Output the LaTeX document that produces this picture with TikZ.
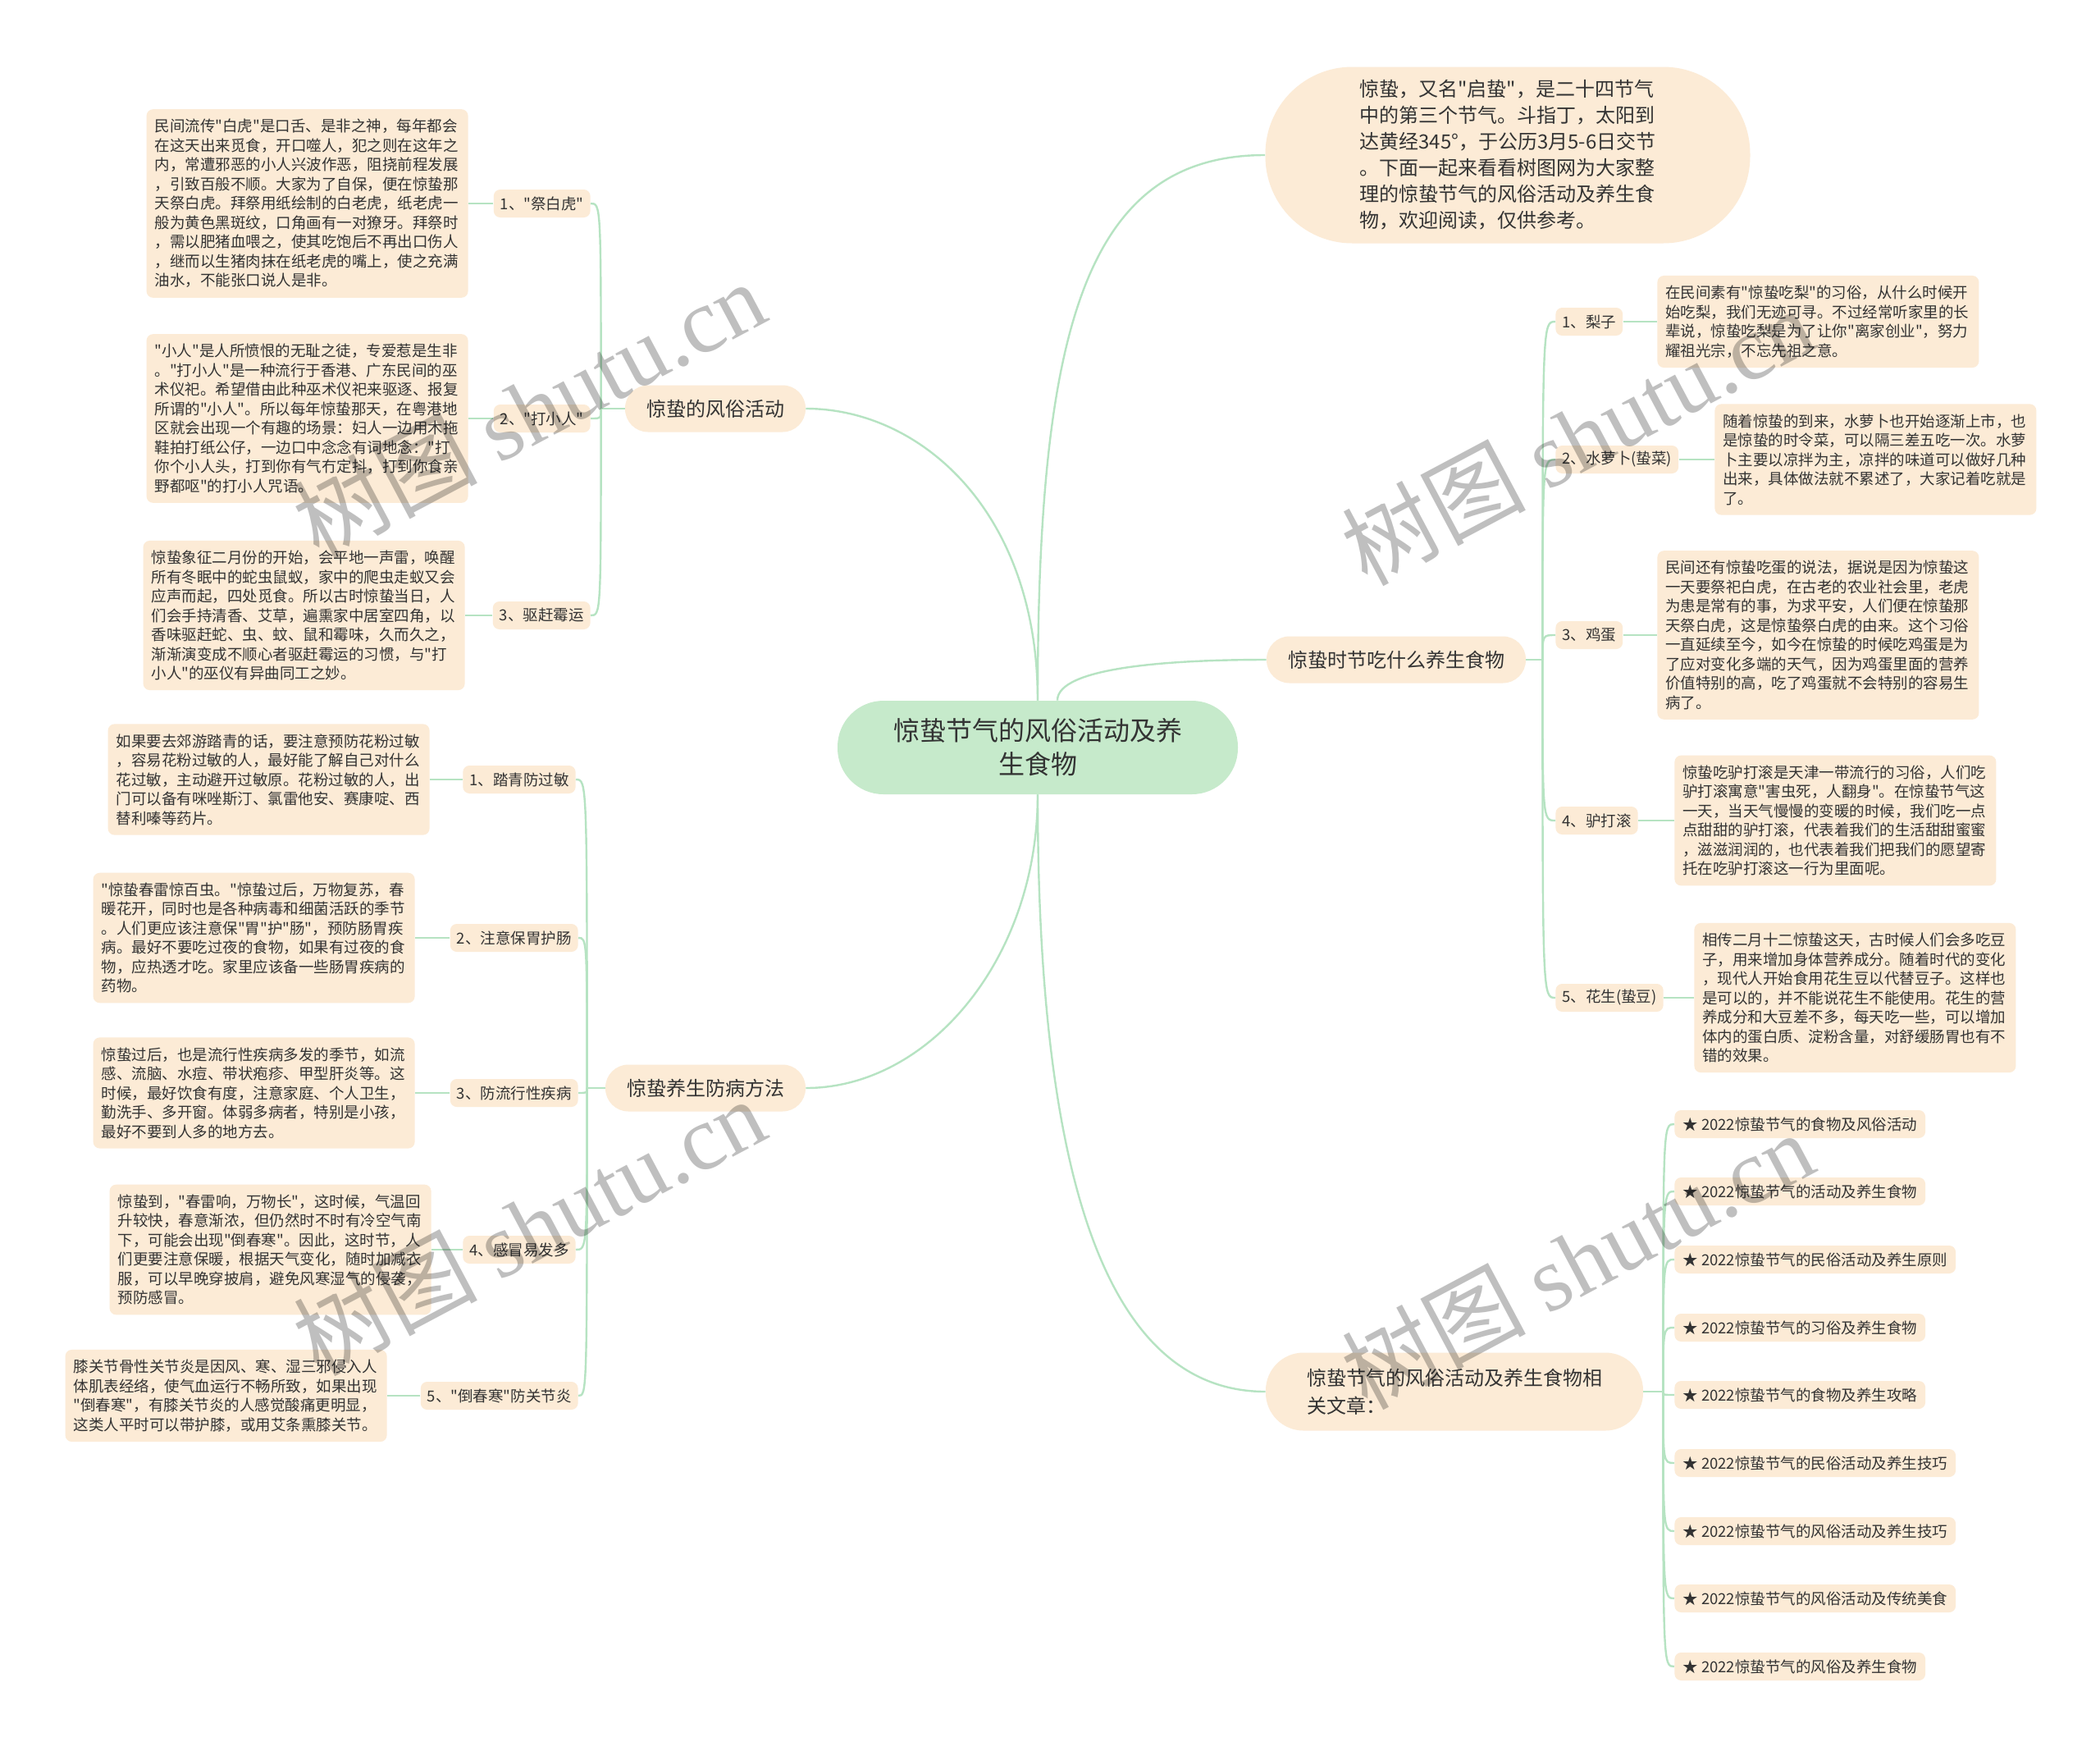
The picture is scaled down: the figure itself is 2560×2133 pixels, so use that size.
\documentclass[tikz,border=0pt]{standalone}
\usepackage{fontspec}
\setmainfont{Noto Sans CJK SC}[Ligatures=TeXOff]
\newfontfamily\wmfont{Liberation Serif}

\definecolor{cream}{HTML}{FCEBD6}
\definecolor{mint}{HTML}{C6EACB}
\definecolor{linkgreen}{HTML}{B6E3C2}
\definecolor{ink}{HTML}{333333}

\begin{document}
\begin{tikzpicture}[x=0.5pt, y=-0.5pt,
  link/.style={draw=linkgreen, line width=1.2pt},
  rootbox/.style={fill=mint, rounded corners=28pt, minimum height=57pt, inner xsep=34pt, align=center, text=ink, font=\fontsize{16}{20.5}\selectfont},
  topicbox/.style={fill=cream, rounded corners=14pt, minimum height=28.5pt, inner xsep=13pt, text=ink, font=\fontsize{12}{16}\selectfont},
  itembox/.style={fill=cream, rounded corners=4pt, minimum height=17pt, inner xsep=4pt, inner ysep=2pt, text=ink, font=\fontsize{9.25}{11.75}\selectfont},
  notebox/.style={fill=cream, rounded corners=4pt, text width=186pt, inner xsep=5pt, inner ysep=6pt, align=left, text=ink, font=\fontsize{9.25}{11.75}\selectfont},
  wmtext/.style={rotate=28, text=black, text opacity=0.25, font=\fontsize{56}{60}\selectfont}]
\useasboundingbox[fill=white] (0,0) rectangle (2560,2133);

\node[rootbox] (root) at (1265,911) {惊蛰节气的风俗活动及养\\生食物};
\node[topicbox] (b1) at (872,498) {惊蛰的风俗活动};
\node[topicbox] (b2) at (860,1326) {惊蛰养生防病方法};
\node[topicbox, minimum width=295.5pt, minimum height=107.5pt, rounded corners=53pt, align=left] (b3) at (1838,189) {惊蛰，又名"启蛰"，是二十四节气\\中的第三个节气。斗指丁，太阳到\\达黄经345°，于公历3月5-6日交节\\。下面一起来看看树图网为大家整\\理的惊蛰节气的风俗活动及养生食\\物，欢迎阅读，仅供参考。};
\node[topicbox] (b4) at (1702,804) {惊蛰时节吃什么养生食物};
\node[topicbox, minimum height=47.5pt, rounded corners=23pt, inner xsep=25pt, align=left, font=\fontsize{12}{17}\selectfont] (b5) at (1773,1696) {惊蛰节气的风俗活动及养生食物相\\关文章：};

\node[itembox, anchor=east] (s11) at (720,248) {1、"祭白虎"};
\node[itembox, anchor=east] (s12) at (720,510) {2、"打小人"};
\node[itembox, anchor=east] (s13) at (720,750) {3、驱赶霉运};
\node[notebox, anchor=east] (t11) at (571,248) {民间流传"白虎"是口舌、是非之神，每年都会\\在这天出来觅食，开口噬人，犯之则在这年之\\内，常遭邪恶的小人兴波作恶，阻挠前程发展\\，引致百般不顺。大家为了自保，便在惊蛰那\\天祭白虎。拜祭用纸绘制的白老虎，纸老虎一\\般为黄色黑斑纹，口角画有一对獠牙。拜祭时\\，需以肥猪血喂之，使其吃饱后不再出口伤人\\，继而以生猪肉抹在纸老虎的嘴上，使之充满\\油水，不能张口说人是非。};
\node[notebox, anchor=east] (t12) at (571,510) {"小人"是人所愤恨的无耻之徒，专爱惹是生非\\。"打小人"是一种流行于香港、广东民间的巫\\术仪祀。希望借由此种巫术仪祀来驱逐、报复\\所谓的"小人"。所以每年惊蛰那天，在粤港地\\区就会出现一个有趣的场景：妇人一边用木拖\\鞋拍打纸公仔，一边口中念念有词地念："打\\你个小人头，打到你有气冇定抖，打到你食亲\\野都呕"的打小人咒语。};
\node[notebox, anchor=east] (t13) at (567,750) {惊蛰象征二月份的开始，会平地一声雷，唤醒\\所有冬眠中的蛇虫鼠蚁，家中的爬虫走蚁又会\\应声而起，四处觅食。所以古时惊蛰当日，人\\们会手持清香、艾草，遍熏家中居室四角，以\\香味驱赶蛇、虫、蚊、鼠和霉味，久而久之，\\渐渐演变成不顺心者驱赶霉运的习惯，与"打\\小人"的巫仪有异曲同工之妙。};

\node[itembox, anchor=east] (s21) at (702,950) {1、踏青防过敏};
\node[itembox, anchor=east] (s22) at (705,1143) {2、注意保胃护肠};
\node[itembox, anchor=east] (s23) at (705,1332) {3、防流行性疾病};
\node[itembox, anchor=east] (s24) at (702,1523) {4、感冒易发多};
\node[itembox, anchor=east] (s25) at (705,1701) {5、"倒春寒"防关节炎};
\node[notebox, anchor=east] (t21) at (524,950) {如果要去郊游踏青的话，要注意预防花粉过敏\\，容易花粉过敏的人，最好能了解自己对什么\\花过敏，主动避开过敏原。花粉过敏的人，出\\门可以备有咪唑斯汀、氯雷他安、赛康啶、西\\替利嗪等药片。};
\node[notebox, anchor=east] (t22) at (506,1143) {"惊蛰春雷惊百虫。"惊蛰过后，万物复苏，春\\暖花开，同时也是各种病毒和细菌活跃的季节\\。人们更应该注意保"胃"护"肠"，预防肠胃疾\\病。最好不要吃过夜的食物，如果有过夜的食\\物，应热透才吃。家里应该备一些肠胃疾病的\\药物。};
\node[notebox, anchor=east] (t23) at (506,1332) {惊蛰过后，也是流行性疾病多发的季节，如流\\感、流脑、水痘、带状疱疹、甲型肝炎等。这\\时候，最好饮食有度，注意家庭、个人卫生，\\勤洗手、多开窗。体弱多病者，特别是小孩，\\最好不要到人多的地方去。};
\node[notebox, anchor=east] (t24) at (526,1523) {惊蛰到，"春雷响，万物长"，这时候，气温回\\升较快，春意渐浓，但仍然时不时有冷空气南\\下，可能会出现"倒春寒"。因此，这时节，人\\们更要注意保暖，根据天气变化，随时加减衣\\服，可以早晚穿披肩，避免风寒湿气的侵袭，\\预防感冒。};
\node[notebox, anchor=east] (t25) at (472,1701) {膝关节骨性关节炎是因风、寒、湿三邪侵入人\\体肌表经络，使气血运行不畅所致，如果出现\\"倒春寒"，有膝关节炎的人感觉酸痛更明显，\\这类人平时可以带护膝，或用艾条熏膝关节。};

\node[itembox, anchor=west] (s41) at (1896,392) {1、梨子};
\node[itembox, anchor=west] (s42) at (1896,560) {2、水萝卜(蛰菜)};
\node[itembox, anchor=west] (s43) at (1896,774) {3、鸡蛋};
\node[itembox, anchor=west] (s44) at (1896,1000) {4、驴打滚};
\node[itembox, anchor=west] (s45) at (1896,1216) {5、花生(蛰豆)};
\node[notebox, anchor=west] (t41) at (2020,392) {在民间素有"惊蛰吃梨"的习俗，从什么时候开\\始吃梨，我们无迹可寻。不过经常听家里的长\\辈说，惊蛰吃梨是为了让你"离家创业"，努力\\耀祖光宗，不忘先祖之意。};
\node[notebox, anchor=west] (t42) at (2090,560) {随着惊蛰的到来，水萝卜也开始逐渐上市，也\\是惊蛰的时令菜，可以隔三差五吃一次。水萝\\卜主要以凉拌为主，凉拌的味道可以做好几种\\出来，具体做法就不累述了，大家记着吃就是\\了。};
\node[notebox, anchor=west] (t43) at (2020,774) {民间还有惊蛰吃蛋的说法，据说是因为惊蛰这\\一天要祭祀白虎，在古老的农业社会里，老虎\\为患是常有的事，为求平安，人们便在惊蛰那\\天祭白虎，这是惊蛰祭白虎的由来。这个习俗\\一直延续至今，如今在惊蛰的时候吃鸡蛋是为\\了应对变化多端的天气，因为鸡蛋里面的营养\\价值特别的高，吃了鸡蛋就不会特别的容易生\\病了。};
\node[notebox, anchor=west] (t44) at (2041,1000) {惊蛰吃驴打滚是天津一带流行的习俗，人们吃\\驴打滚寓意"害虫死，人翻身"。在惊蛰节气这\\一天，当天气慢慢的变暖的时候，我们吃一点\\点甜甜的驴打滚，代表着我们的生活甜甜蜜蜜\\，滋滋润润的，也代表着我们把我们的愿望寄\\托在吃驴打滚这一行为里面呢。};
\node[notebox, anchor=west] (t45) at (2065,1216) {相传二月十二惊蛰这天，古时候人们会多吃豆\\子，用来增加身体营养成分。随着时代的变化\\，现代人开始食用花生豆以代替豆子。这样也\\是可以的，并不能说花生不能使用。花生的营\\养成分和大豆差不多，每天吃一些，可以增加\\体内的蛋白质、淀粉含量，对舒缓肠胃也有不\\错的效果。};

\node[itembox, anchor=west, inner xsep=5pt] (a1) at (2041,1370) {★ 2022惊蛰节气的食物及风俗活动};
\node[itembox, anchor=west, inner xsep=5pt] (a2) at (2041,1452) {★ 2022惊蛰节气的活动及养生食物};
\node[itembox, anchor=west, inner xsep=5pt] (a3) at (2041,1535) {★ 2022惊蛰节气的民俗活动及养生原则};
\node[itembox, anchor=west, inner xsep=5pt] (a4) at (2041,1618) {★ 2022惊蛰节气的习俗及养生食物};
\node[itembox, anchor=west, inner xsep=5pt] (a5) at (2041,1700) {★ 2022惊蛰节气的食物及养生攻略};
\node[itembox, anchor=west, inner xsep=5pt] (a6) at (2041,1783) {★ 2022惊蛰节气的民俗活动及养生技巧};
\node[itembox, anchor=west, inner xsep=5pt] (a7) at (2041,1866) {★ 2022惊蛰节气的风俗活动及养生技巧};
\node[itembox, anchor=west, inner xsep=5pt] (a8) at (2041,1948) {★ 2022惊蛰节气的风俗活动及传统美食};
\node[itembox, anchor=west, inner xsep=5pt] (a9) at (2041,2031) {★ 2022惊蛰节气的风俗及养生食物};

\draw[link] (root.north) .. controls +(0,-230) and +(140,0) .. (b1.east);
\draw[link] (root.north) .. controls +(0,-450) and +(-220,0) .. (b3.west);
\draw[link] ([xshift=12pt]root.north) .. controls +(0,-40) and +(-120,0) .. (b4.west);
\draw[link] (root.south) .. controls +(0,200) and +(150,0) .. (b2.east);
\draw[link] (root.south) .. controls +(0,450) and +(-200,0) .. (b5.west);

\draw[link] (b1.west) -- ++(-29,0) coordinate (k1);
\draw[link] (k1) .. controls (k1 |- s11) .. (s11.east);
\draw[link] (k1) .. controls (k1 |- s12) .. (s12.east);
\draw[link] (k1) .. controls (k1 |- s13) .. (s13.east);
\draw[link] (s11.west) -- (t11.east);
\draw[link] (s12.west) -- (t12.east);
\draw[link] (s13.west) -- (t13.east);

\draw[link] (b2.west) -- ++(-22,0) coordinate (k2);
\draw[link] (k2) .. controls (k2 |- s21) .. (s21.east);
\draw[link] (k2) .. controls (k2 |- s22) .. (s22.east);
\draw[link] (k2) .. controls (k2 |- s23) .. (s23.east);
\draw[link] (k2) .. controls (k2 |- s24) .. (s24.east);
\draw[link] (k2) .. controls (k2 |- s25) .. (s25.east);
\draw[link] (s21.west) -- (t21.east);
\draw[link] (s22.west) -- (t22.east);
\draw[link] (s23.west) -- (t23.east);
\draw[link] (s24.west) -- (t24.east);
\draw[link] (s25.west) -- (t25.east);

\draw[link] (b4.east) -- ++(20,0) coordinate (k4);
\draw[link] (k4) .. controls (k4 |- s41) .. (s41.west);
\draw[link] (k4) .. controls (k4 |- s42) .. (s42.west);
\draw[link] (k4) .. controls (k4 |- s43) .. (s43.west);
\draw[link] (k4) .. controls (k4 |- s44) .. (s44.west);
\draw[link] (k4) .. controls (k4 |- s45) .. (s45.west);
\draw[link] (s41.east) -- (t41.west);
\draw[link] (s42.east) -- (t42.west);
\draw[link] (s43.east) -- (t43.west);
\draw[link] (s44.east) -- (t44.west);
\draw[link] (s45.east) -- (t45.west);

\draw[link] (b5.east) -- ++(24,0) coordinate (k5);
\draw[link] (k5) .. controls (k5 |- a1) .. (a1.west);
\draw[link] (k5) .. controls (k5 |- a2) .. (a2.west);
\draw[link] (k5) .. controls (k5 |- a3) .. (a3.west);
\draw[link] (k5) .. controls (k5 |- a4) .. (a4.west);
\draw[link] (k5) .. controls (k5 |- a5) .. (a5.west);
\draw[link] (k5) .. controls (k5 |- a6) .. (a6.west);
\draw[link] (k5) .. controls (k5 |- a7) .. (a7.west);
\draw[link] (k5) .. controls (k5 |- a8) .. (a8.west);
\draw[link] (k5) .. controls (k5 |- a9) .. (a9.west);

\node[wmtext] (w1) at (645,498) {树图 {\wmfont shutu.cn}};
\node[wmtext] (w2) at (645,1494) {树图 {\wmfont shutu.cn}};
\node[wmtext] (w3) at (1923,531) {树图 {\wmfont shutu.cn}};
\node[wmtext] (w4) at (1923,1535) {树图 {\wmfont shutu.cn}};
\end{tikzpicture}
\end{document}
